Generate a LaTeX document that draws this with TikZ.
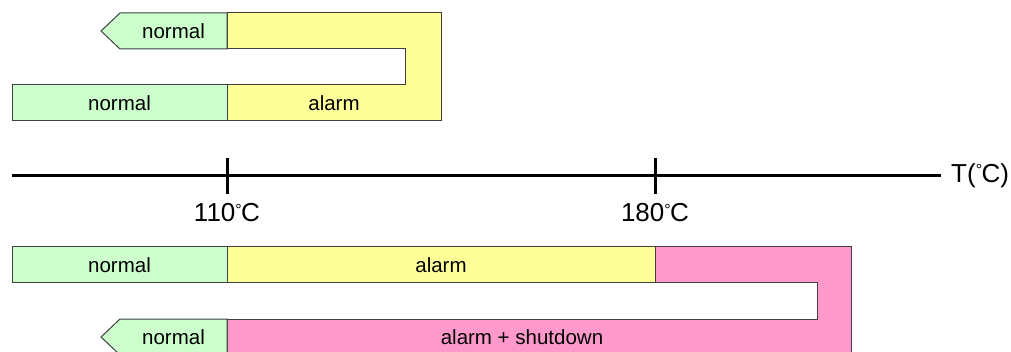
\documentclass[tikz,border=0pt]{standalone}
\usepackage{fontspec}
\setmainfont{Liberation Sans}
\usetikzlibrary{positioning}
\tikzset{bar/.style={draw=black!75, line width=1pt, minimum height=36pt, inner sep=0pt, outer sep=0pt, font=\fontsize{20.5}{24}\selectfont}}
\tikzset{zone/.style={draw=black!75, line width=1pt, line join=miter}}
\tikzset{txt/.style={inner sep=0pt, outer sep=0pt, font=\fontsize{20.5}{24}\selectfont}}
\tikzset{lbl/.style={inner sep=0pt, font=\fontsize{26}{30}\selectfont}}
\tikzset{axis/.style={draw, line width=3pt}}
\definecolor{okgreen}{RGB}{204,255,204}
\definecolor{warnyellow}{RGB}{255,255,153}
\definecolor{tripink}{RGB}{255,153,204}
\newcommand{\degc}{\raisebox{6.8pt}{\fontsize{16}{16}\selectfont °}\kern-0.6pt C}

\begin{document}
\begin{tikzpicture}[x=1pt,y=-1pt]
	\useasboundingbox (0,0) rectangle (1011,352);
	% rising, then falling below 110
	\draw [zone, fill=warnyellow] (227,13) -- (441,13) -- (441,121) -- (227,121) -- (227,85) -- (405,85) -- (405,49) -- (227,49) -- cycle;
	\draw [zone, fill=okgreen] (227,13) -- (120,13) -- (101,31) -- (120,49) -- (227,49) -- cycle;
	\node [txt]                                              (n0)     at (173.5,31)  {normal};
	\node [bar, fill=okgreen, minimum width=215pt]          (n1)     at (119.5,103) {normal};
	\node [txt, minimum width=214pt, minimum height=36pt, right=0pt of n1] (a1) {alarm};
	%
	% temperature axis
	\coordinate (t0) at (12,176);
	\coordinate (t1) at (941,176);
	\coordinate (k1) at (227,176);
	\coordinate (k2) at (655,176);
	\draw [axis] (t0) -- (t1);
	\draw [axis] ([yshift=-18pt]k1) -- ([yshift=18pt]k1);
	\draw [axis] ([yshift=-18pt]k2) -- ([yshift=18pt]k2);
	\node [lbl, below=27.5pt of k1]                          (l1)     {110\degc};
	\node [lbl, below=27.5pt of k2]                          (l2)     {180\degc};
	\node [lbl, right=10pt of t1]                            (tl)     {T(\degc)};
	%
	% rising past 180, then falling below 110
	\draw [zone, fill=tripink] (655,247) -- (851,247) -- (851,355) -- (227,355) -- (227,319) -- (817,319) -- (817,283) -- (655,283) -- cycle;
	\node [bar, fill=okgreen, minimum width=215pt]          (n3)     at (119.5,265) {normal};
	\node [bar, fill=warnyellow, minimum width=428pt, right=0pt of n3] (a3) {alarm};
	\draw [zone, fill=okgreen] (227,319) -- (120,319) -- (101,337) -- (120,355) -- (227,355) -- cycle;
	\node [txt]                                              (n4)     at (173.5,337) {normal};
	\node [txt]                                              (s4)     at (522,337)   {alarm + shutdown};
\end{tikzpicture}
\end{document}
